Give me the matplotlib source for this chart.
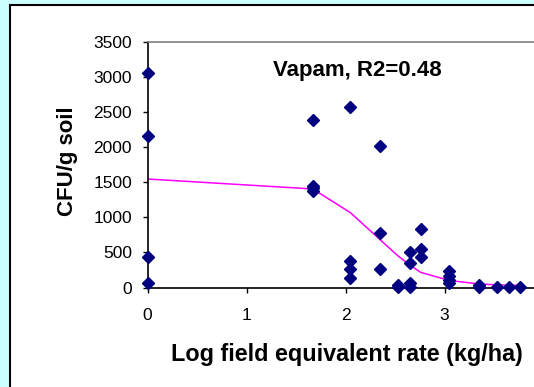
import numpy as np
import matplotlib
matplotlib.use("Agg")
import matplotlib.pyplot as plt
from matplotlib.patches import Rectangle

plt.rcParams['font.family'] = ['Liberation Sans', 'DejaVu Sans']

# observed counts (CFU/g soil) at each log field-equivalent rate
obs_x = [0, 0, 0, 0,
         1.67, 1.67, 1.67, 1.67,
         2.05, 2.05, 2.05, 2.05,
         2.35, 2.35, 2.35,
         2.53, 2.53,
         2.65, 2.65, 2.65, 2.65,
         2.76, 2.76, 2.76,
         3.05, 3.05, 3.05, 3.05,
         3.35, 3.35,
         3.53, 3.65, 3.76]
obs_y = [3050, 2160, 430, 60,
         2390, 1450, 1410, 1370,
         2570, 380, 265, 140,
         2020, 780, 265,
         36, 5,
         510, 355, 68, 5,
         833, 545, 440,
         240, 165, 100, 68,
         36, 5,
         3, 3, 3]

# fitted curve
fit_x = [0, 1.67, 2.05, 2.35, 2.53, 2.65, 2.76, 3.05, 3.35, 3.53, 3.65, 3.76]
fit_y = [1545, 1403, 1065, 680, 450, 320, 215, 100, 50, 38, 33, 30]

y_ticks = [0, 500, 1000, 1500, 2000, 2500, 3000, 3500]
x_ticks = [0, 1, 2, 3]

W, H = 534, 387
fig = plt.figure(figsize=(W / 100, H / 100), dpi=100)
fig.patch.set_facecolor('#CCFFFF')

# white chart area with black border (only left/top edges visible)
fig.patches.append(Rectangle((10 / W, -0.2), 1.2, (H - 5) / H + 0.2,
                             transform=fig.transFigure, fc='white',
                             ec='black', lw=1.5, zorder=-5))

left, bottom = 147.5 / W, (H - 287.5) / H
ax = fig.add_axes([left, bottom, (560 - 147.5) / W, 245.8 / H])
ax.set_facecolor('white')

ax.plot(fit_x, fit_y, color='#FF00FF', lw=1.1, zorder=2)
ax.plot(obs_x, obs_y, ls='none', marker='D', ms=6, color='#000080',
        mec='#000080', zorder=3, clip_on=False)

ax.set_xlim(0, (560 - 147.5) / 99)
ax.set_ylim(0, 3500)
ax.set_xticks(x_ticks)
ax.set_yticks(y_ticks)
ax.tick_params(direction='out', length=3.6, width=1, colors='black',
               labelsize=12.5)
ax.tick_params(axis='y', pad=7.5)
ax.tick_params(axis='x', pad=11)

ax.spines['left'].set_color('black')
ax.spines['bottom'].set_color('black')
ax.spines['top'].set_color('#808080')
ax.spines['right'].set_color('#808080')
for s in ax.spines.values():
    s.set_linewidth(1.2)

ax.text(2.12, 3097, 'Vapam, R2=0.48', ha='center', va='center',
        fontsize=16, fontweight='bold')

fig.text(67 / W, 1 - 161 / H, 'CFU/g soil', rotation=90, ha='center',
         va='center', fontsize=16, fontweight='bold')
fig.text(347 / W, 1 - 355 / H, 'Log field equivalent rate (kg/ha)',
         ha='center', va='center', fontsize=16.8, fontweight='bold')

fig.savefig('out.png', dpi=100, facecolor=fig.get_facecolor())
